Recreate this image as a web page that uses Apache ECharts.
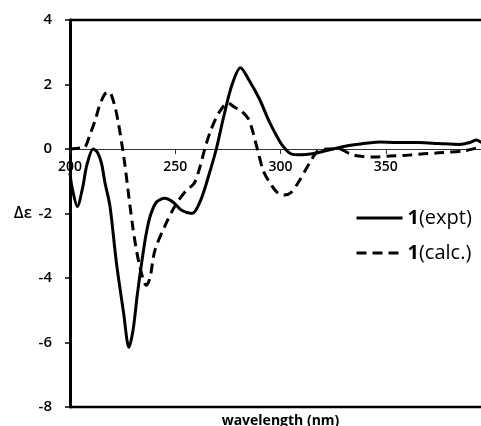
<!DOCTYPE html>
<html>
<head>
<meta charset="utf-8">
<script src="https://cdn.jsdelivr.net/npm/echarts@6/dist/echarts.min.js"></script>
<style>
  html, body { margin: 0; padding: 0; overflow: hidden; background: #fff; }
  #chart { width: 495px; height: 426px; }
</style>
</head>
<body>
<div id="chart"></div>
<script>
// CD 谱数据：波长 (nm) 与 Δε
const wlExpt = [200, 201, 203.5, 206, 208, 211, 213, 215, 216.6, 219, 222, 225.5, 228, 230, 232, 234, 236, 238, 241, 245, 249, 253, 258, 262, 266, 269.5, 273, 277, 281, 285, 290, 295, 299.5, 302, 305, 310, 315, 320, 325, 330, 337, 347, 355, 366, 375, 385, 390, 393, 396, 400]
const epsExpt = [-0.75, -1.2, -1.78, -1.2, -0.5, 0.0, -0.1, -0.45, -1.04, -1.78, -3.5, -5.1, -6.15, -5.6, -4.5, -3.55, -2.7, -2.1, -1.65, -1.53, -1.65, -1.9, -2.0, -1.6, -0.8, 0.0, 1.0, 2.0, 2.52, 2.14, 1.55, 0.8, 0.25, 0.02, -0.15, -0.18, -0.15, -0.08, 0.0, 0.08, 0.15, 0.22, 0.2, 0.2, 0.17, 0.14, 0.2, 0.28, 0.2, 0.2]

const wlCalc = [200, 205, 207, 209.5, 212, 214, 216.5, 218.5, 221, 223, 225, 226, 230, 233, 236.3, 238, 240.3, 245, 250, 255, 259, 262, 264, 267, 271, 275, 278, 281, 285, 289, 292, 296, 299, 302, 305, 309, 314, 318, 323, 328, 333, 337, 345, 352, 361, 368, 375, 387, 393, 397, 400]
const epsCalc = [0.0, 0.03, 0.05, 0.45, 0.9, 1.34, 1.7, 1.77, 1.4, 0.8, 0.0, -0.45, -2.5, -3.6, -4.23, -4.0, -3.15, -2.4, -1.75, -1.3, -1.06, -0.5, 0.0, 0.6, 1.15, 1.43, 1.3, 1.2, 0.9, 0.0, -0.7, -1.15, -1.38, -1.43, -1.35, -0.98, -0.41, -0.05, 0.0, 0.0, -0.15, -0.22, -0.25, -0.22, -0.19, -0.15, -0.12, -0.06, 0.03, 0.1, 0.1]

const yTicks = [-8, -6, -4, -2, 0, 2, 4]
const xTicks = [200, 250, 300, 350]

const font = 'Open Sans'
const gridTop = 20
const gridHeight = 387
const xMin = 200
const xMax = 400
const yMin = -8
const yMax = 4
// x 轴画在 Δε = 0 处
const zeroOffset = -gridHeight * (0 - yMin) / (yMax - yMin)

const chart = echarts.init(document.getElementById('chart'))

const option = {
  animation: false,
  grid: {
    left: 70,
    top: gridTop,
    width: 421,
    height: gridHeight
  },
  legend: {
    orient: 'vertical',
    left: 350,
    top: 203,
    itemWidth: 46,
    itemHeight: 14,
    itemGap: 15,
    data: ['expt', 'calc'],
    itemStyle: { color: 'transparent', borderWidth: 0 },
    lineStyle: { width: 3 },
    formatter: name => name === 'expt' ? '{b|1}{n|(expt)}' : '{b|1}{n|(calc.)}',
    textStyle: {
      rich: {
        b: { fontFamily: font, fontSize: 20, fontWeight: 'bold', color: '#000' },
        n: { fontFamily: font, fontSize: 20, color: '#000' }
      }
    }
  },
  xAxis: {
    type: 'value',
    min: xMin,
    max: xMax,
    interval: 50,
    position: 'bottom',
    offset: zeroOffset,
    axisLine: { onZero: false, lineStyle: { color: '#333', width: 1 } },
    axisTick: { show: true, length: 5, lineStyle: { color: '#333' } },
    axisLabel: {
      margin: 11,
      fontFamily: font,
      fontSize: 14,
      fontWeight: 600,
      color: '#000',
      formatter: v => xTicks.includes(v) ? String(v) : ''
    },
    splitLine: { show: false }
  },
  yAxis: {
    type: 'value',
    min: yMin,
    max: yMax,
    interval: 2,
    axisLine: { show: true, onZero: false, lineStyle: { color: '#000', width: 3 } },
    axisTick: { show: true, length: 5, lineStyle: { color: '#000', width: 1.5 } },
    axisLabel: {
      margin: 18,
      fontFamily: font,
      fontSize: 15,
      fontWeight: 600,
      color: '#000',
      formatter: v => yTicks.includes(v) ? String(v) : ''
    },
    splitLine: { show: false },
    name: 'Δε',
    nameLocation: 'middle',
    nameRotate: 0,
    nameGap: 38,
    nameTextStyle: { fontFamily: font, fontSize: 16, fontWeight: 600, color: '#000' }
  },
  series: [
    {
      name: 'expt',
      type: 'line',
      data: wlExpt.map((w, i) => [w, epsExpt[i]]),
      smooth: 0.3,
      symbol: 'none',
      lineStyle: { color: '#000', width: 3 },
      itemStyle: { color: '#000' }
    },
    {
      name: 'calc',
      type: 'line',
      data: wlCalc.map((w, i) => [w, epsCalc[i]]),
      smooth: 0.3,
      symbol: 'none',
      lineStyle: { color: '#000', width: 3, type: [10, 6] },
      itemStyle: { color: '#000' }
    }
  ]
}

chart.setOption(option)

// 图框和 x 轴标题：位置从坐标系换算
const topLeft = chart.convertToPixel({ gridIndex: 0 }, [xMin, yMax])
const bottomRight = chart.convertToPixel({ gridIndex: 0 }, [xMax, yMin])
const frameStyle = { stroke: '#000', lineWidth: 2.5 }
chart.setOption({
  graphic: [
    {
      type: 'line',
      silent: true,
      shape: { x1: topLeft[0], y1: topLeft[1], x2: bottomRight[0], y2: topLeft[1] },
      style: frameStyle
    },
    {
      type: 'line',
      silent: true,
      shape: { x1: topLeft[0], y1: bottomRight[1], x2: bottomRight[0], y2: bottomRight[1] },
      style: frameStyle
    },
    {
      type: 'text',
      x: (topLeft[0] + bottomRight[0]) / 2,
      y: bottomRight[1] + 7,
      style: {
        text: 'wavelength (nm)',
        fontFamily: font,
        fontSize: 14,
        fontWeight: 'bold',
        fill: '#000',
        textAlign: 'center',
        textVerticalAlign: 'top'
      }
    }
  ]
})
</script>
</body>
</html>
